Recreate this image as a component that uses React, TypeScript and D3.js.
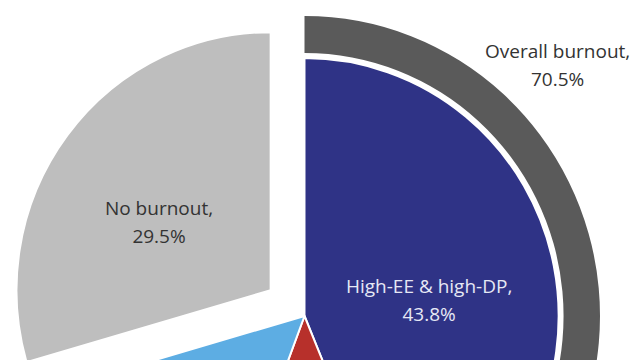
import React from 'react';
import * as d3 from 'd3';

// burnout groups, clockwise from 12 o'clock
const groups = ['High-EE & high-DP', 'Low-EE & high-DP', 'High-EE & low-DP', 'No burnout'];
const shares = [43.8, 11.9, 14.8, 29.5];
const colors = ['#2f3386', '#b7302b', '#5dade3', '#bebebe'];
const showLabel = [true, false, false, true];
const labelColors = ['#e6e8f5', '#ffffff', '#ffffff', '#333333'];
const labelNudge = [[0, 3], [0, 0], [0, 0], [-10, 3]];

const overallLabel = 'Overall burnout,';
const overallShare = 70.5;

const W = 640;
const H = 360;
const cx = 304.5;
const cy = 316;
const radius = 258;
const ringInner = 263;
const ringOuter = 300;
const explode = 43;
const squish = 0.985; // source image is a touch narrower than tall

const fmt = (v: number) => `${v.toFixed(1)}%`;

export default function App() {
  const pie = d3.pie<number>().sort(null).startAngle(0).endAngle(2 * Math.PI);
  const arcs = pie(shares);

  const arc = d3.arc<d3.PieArcDatum<number>>().innerRadius(0).outerRadius(radius);
  const labelArc = d3.arc<d3.PieArcDatum<number>>().innerRadius(radius * 0.5).outerRadius(radius * 0.5);

  const angle = d3.scaleLinear().domain([0, 100]).range([0, 2 * Math.PI]);
  const ring = d3.arc()({
    innerRadius: ringInner,
    outerRadius: ringOuter,
    startAngle: 0,
    endAngle: angle(overallShare),
  } as any);

  // overall label sits outside the ring, upper right
  const oa = Math.PI / 4;
  const or = ringOuter + 58;
  const ox = Math.sin(oa) * or;
  const oy = -Math.cos(oa) * or;

  const offsetOf = (a: d3.PieArcDatum<number>, i: number) => {
    const mid = (a.startAngle + a.endAngle) / 2;
    const off = groups[i] === 'No burnout' ? explode : 0;
    return [Math.sin(mid) * off, -Math.cos(mid) * off];
  };

  return (
    <svg width={W} height={H} style={{ position: 'absolute', left: 0, top: 0, background: '#fff' }}>
      <g transform={`translate(${cx},${cy})`}>
        <g transform={`scale(${squish},1)`}>
          <path d={ring ?? ''} fill="#5a5a5a" />
          {arcs.map((a, i) => {
            const [tx, ty] = offsetOf(a, i);
            return (
              <path
                key={groups[i]}
                transform={`translate(${tx},${ty})`}
                d={arc(a) ?? ''}
                fill={colors[i]}
                stroke="#fff"
                strokeWidth={2}
                strokeLinejoin="round"
              />
            );
          })}
        </g>
        <g fontFamily="'Open Sans', sans-serif" fontSize={19}>
          {arcs.map((a, i) => {
            if (!showLabel[i]) return null;
            const [tx, ty] = offsetOf(a, i);
            const [lx, ly] = labelArc.centroid(a);
            const x = (lx + tx) * squish + labelNudge[i][0];
            const y = ly + ty + labelNudge[i][1];
            return (
              <text key={groups[i]} x={x} y={y} textAnchor="middle" fill={labelColors[i]}>
                <tspan x={x} dy={-1}>{groups[i]},</tspan>
                <tspan x={x} dy={28}>{fmt(shares[i])}</tspan>
              </text>
            );
          })}
          <text x={ox} y={oy} textAnchor="middle" fill="#333">
            <tspan x={ox} dy={-5}>{overallLabel}</tspan>
            <tspan x={ox} dy={28}>{fmt(overallShare)}</tspan>
          </text>
        </g>
      </g>
    </svg>
  );
}
